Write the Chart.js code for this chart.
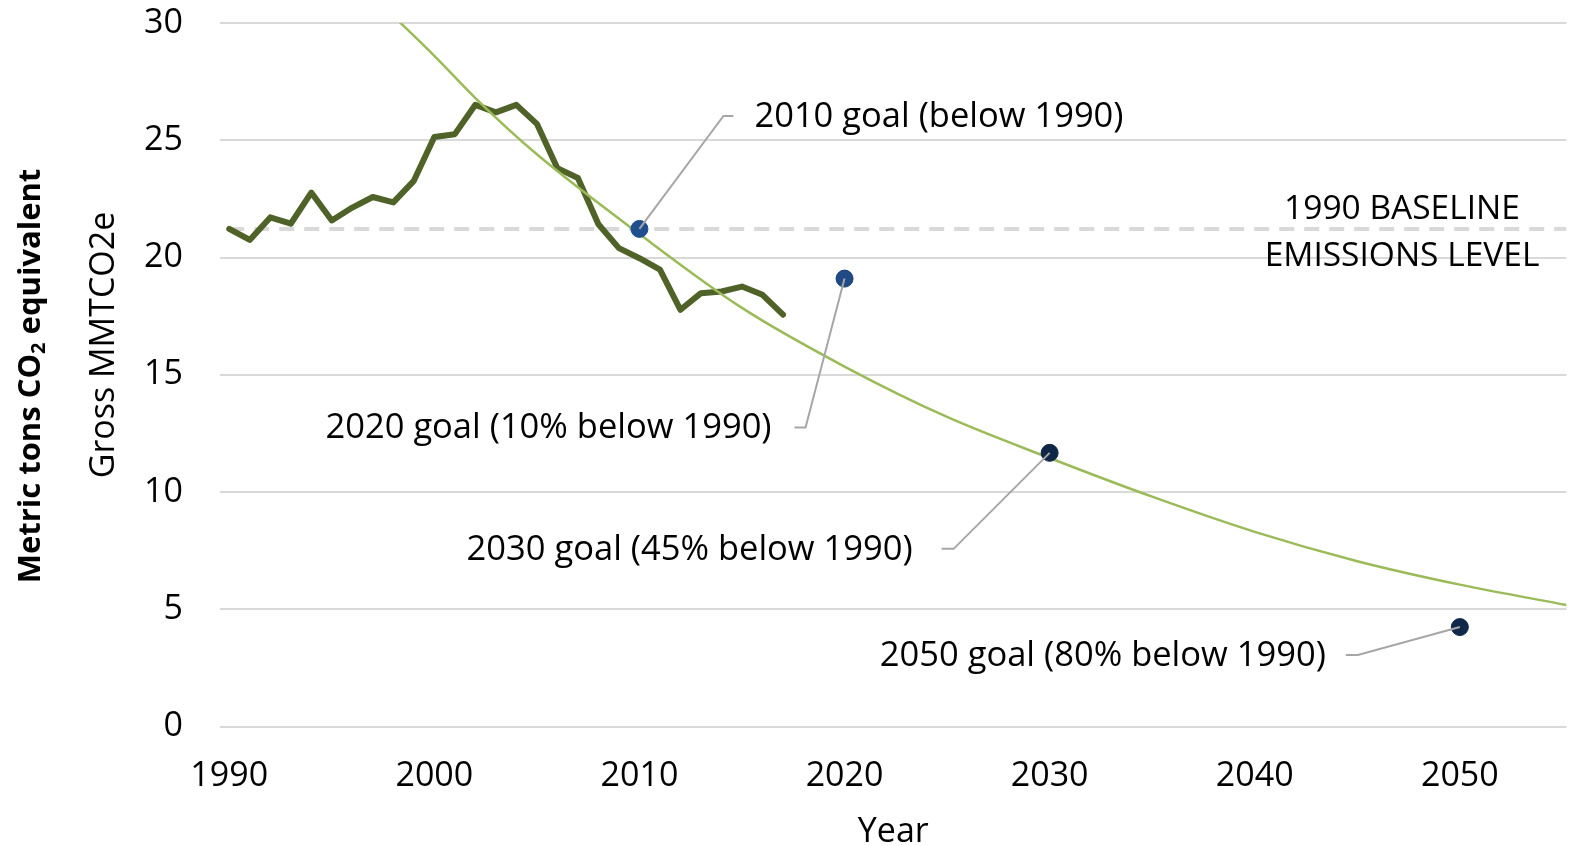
<!DOCTYPE html>
<html>
<head>
<meta charset="utf-8">
<title>Gross emissions and goals</title>
<script src="https://cdn.jsdelivr.net/npm/chart.js@4.4.1/dist/chart.umd.min.js"></script>
<style>
  html, body { margin: 0; padding: 0; background: #fff; }
  #wrap { width: 1576px; height: 846px; }
</style>
</head>
<body>
<div id="wrap"><canvas id="chart" width="1576" height="846"></canvas></div>
<script>
const years = [1990, 1991, 1992, 1993, 1994, 1995, 1996, 1997, 1998, 1999,
  2000, 2001, 2002, 2003, 2004, 2005, 2006, 2007, 2008, 2009,
  2010, 2011, 2012, 2013, 2014, 2015, 2016, 2017];
const emissions = [21.22, 20.75, 21.71, 21.44, 22.77, 21.58, 22.13, 22.58, 22.35, 23.27,
  25.14, 25.26, 26.51, 26.19, 26.51, 25.70, 23.81, 23.39, 21.42, 20.40,
  19.97, 19.48, 17.77, 18.48, 18.55, 18.76, 18.41, 17.56];

const goalYears = [2010, 2020, 2030, 2050];
const goalValues = [21.22, 19.10, 11.67, 4.24];
const goalLabels = ['2010 goal (below 1990)', '2020 goal (10% below 1990)',
  '2030 goal (45% below 1990)', '2050 goal (80% below 1990)'];

const trendYears = [1998, 2000, 2002, 2005, 2010, 2015, 2020, 2025, 2030, 2035, 2040, 2045, 2050, 2055.2];
const trendValues = [30.3, 28.6, 26.8, 24.4, 21.0, 17.85, 15.35, 13.2, 11.45, 9.8, 8.3, 7.05, 6.05, 5.18];

const baselineYears = [1990, 2055.2];
const baselineValues = [21.22, 21.22];

const xTicks = [1990, 2000, 2010, 2020, 2030, 2040, 2050];
const yTicks = [0, 5, 10, 15, 20, 25, 30];

const FONT = "'Open Sans', 'Noto Sans', sans-serif";

// leader line geometry per goal: elbow offset from the dot, then a short tail
const leaders = [
  { dx: 84, dy: -113, tail: 10, gap: 21 },
  { dx: -39, dy: 149, tail: -11, gap: -23 },
  { dx: -96, dy: 96, tail: -12, gap: -29 },
  { dx: -102, dy: 28, tail: -12, gap: -20 }
];

function pts(xs, ys) {
  return xs.map((v, i) => ({ x: v, y: ys[i] }));
}

const textPlugin = {
  id: 'textPlugin',
  afterDatasetsDraw(chart) {
    const { ctx, scales: { x, y }, chartArea } = chart;
    ctx.save();

    // leader lines + goal labels
    ctx.strokeStyle = '#a6a6a6';
    ctx.lineWidth = 2;
    ctx.fillStyle = '#000';
    ctx.font = '34.5px ' + FONT;
    ctx.textBaseline = 'middle';
    goalYears.forEach((yr, i) => {
      const px = x.getPixelForValue(yr);
      const py = y.getPixelForValue(goalValues[i]);
      const l = leaders[i];
      const ex = px + l.dx, ey = py + l.dy;
      ctx.beginPath();
      ctx.moveTo(px, py);
      ctx.lineTo(ex, ey);
      ctx.lineTo(ex + l.tail, ey);
      ctx.stroke();
      ctx.textAlign = l.gap > 0 ? 'left' : 'right';
      ctx.fillText(goalLabels[i], ex + l.tail + l.gap, ey + 1);
    });

    // baseline label
    ctx.font = '33.5px ' + FONT;
    ctx.textAlign = 'center';
    ctx.fillText('1990 BASELINE', 1402, 209);
    ctx.fillText('EMISSIONS LEVEL', 1402, 256);

    // x axis title
    ctx.font = '34px ' + FONT;
    ctx.fillText('Year', (chartArea.left + chartArea.right) / 2, 832);

    // y axis titles (rotated)
    ctx.save();
    ctx.translate(104, 345);
    ctx.rotate(-Math.PI / 2);
    ctx.fillText('Gross MMTCO2e', 0, 0);
    ctx.restore();

    ctx.save();
    ctx.translate(31, 376);
    ctx.rotate(-Math.PI / 2);
    ctx.textAlign = 'left';
    const big = 'bold 31px ' + FONT, small = 'bold 20px ' + FONT;
    const a = 'Metric tons CO', b = '2', c = ' equivalent';
    ctx.font = big;
    const wa = ctx.measureText(a).width, wc = ctx.measureText(c).width;
    ctx.font = small;
    const wb = ctx.measureText(b).width;
    let sx = -(wa + wb + wc) / 2;
    ctx.font = big;
    ctx.fillText(a, sx, 0);
    ctx.font = small;
    ctx.fillText(b, sx + wa, 8);
    ctx.font = big;
    ctx.fillText(c, sx + wa + wb, 0);
    ctx.restore();

    ctx.restore();
  }
};

new Chart(document.getElementById('chart'), {
  type: 'scatter',
  data: {
    datasets: [
      {
        label: 'Baseline',
        data: pts(baselineYears, baselineValues),
        showLine: true,
        borderColor: '#d9d9d9',
        borderWidth: 4,
        borderDash: [15, 10],
        pointRadius: 0,
        order: 4
      },
      {
        label: 'Gross emissions',
        data: pts(years, emissions),
        showLine: true,
        borderColor: '#4f6228',
        borderWidth: 6,
        borderJoinStyle: 'round',
        borderCapStyle: 'round',
        pointRadius: 0,
        order: 3
      },
      {
        label: 'Trend',
        data: pts(trendYears, trendValues),
        showLine: true,
        borderColor: '#9bbb59',
        borderWidth: 2.5,
        cubicInterpolationMode: 'monotone',
        pointRadius: 0,
        order: 2
      },
      {
        label: 'Goals',
        data: pts(goalYears, goalValues),
        showLine: false,
        pointRadius: 8.5,
        pointBackgroundColor: ['#1f4e8f', '#1f4a85', '#0f2646', '#10284a'],
        pointBorderColor: ['#1f4e8f', '#173f70', '#0f2646', '#10284a'],
        pointBorderWidth: 1,
        order: 1
      }
    ]
  },
  options: {
    responsive: false,
    animation: false,
    layout: { padding: { top: 23, right: 0, bottom: 0, left: 0 } },
    plugins: {
      legend: { display: false },
      tooltip: { enabled: false }
    },
    scales: {
      x: {
        type: 'linear',
        min: 1989.55,
        max: 2055.2,
        afterBuildTicks: axis => { axis.ticks = xTicks.map(v => ({ value: v })); },
        afterFit: axis => {
          axis.height = 119.5;
          axis.paddingLeft = 0;
          axis.paddingRight = 0;
        },
        grid: { display: false, drawTicks: false },
        border: { display: false },
        ticks: {
          padding: 29,
          color: '#000',
          font: { family: FONT, size: 34 },
          callback: v => String(v)
        }
      },
      y: {
        min: 0,
        max: 30,
        afterBuildTicks: axis => { axis.ticks = yTicks.map(v => ({ value: v })); },
        afterFit: axis => {
          axis.width = 220;
          axis.paddingTop = 0;
          axis.paddingBottom = 0;
        },
        grid: { color: '#d9d9d9', lineWidth: 2, drawTicks: false },
        border: { display: false },
        ticks: {
          padding: 37,
          color: '#000',
          font: { family: FONT, size: 34 }
        }
      }
    }
  },
  plugins: [textPlugin]
});
</script>
</body>
</html>
